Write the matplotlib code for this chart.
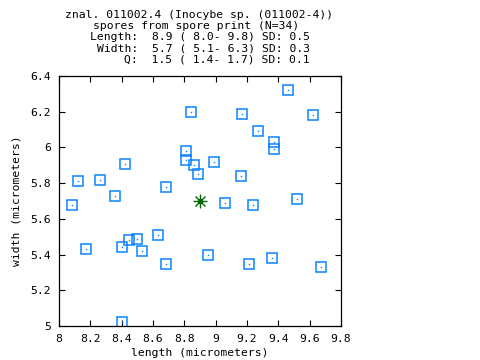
import matplotlib
matplotlib.use("Agg")
import matplotlib.pyplot as plt
import numpy as np

length = [8.84, 8.81, 8.81, 8.86, 8.89, 8.42, 8.12, 8.26, 8.68, 8.36, 8.08,
          9.46, 9.17, 9.62, 9.27, 9.37, 9.37, 8.99, 9.16, 9.06, 9.24, 9.52,
          8.17, 8.40, 8.45, 8.50, 8.53, 8.63, 8.68, 8.40, 8.95, 9.21, 9.36, 9.67]
width = [6.20, 5.98, 5.93, 5.90, 5.85, 5.91, 5.81, 5.82, 5.78, 5.73, 5.68,
         6.32, 6.19, 6.18, 6.09, 6.03, 5.99, 5.92, 5.84, 5.69, 5.68, 5.71,
         5.43, 5.44, 5.48, 5.49, 5.42, 5.51, 5.35, 5.02, 5.40, 5.35, 5.38, 5.33]
mean_length = [8.9]
mean_width = [5.7]

xticks = [8, 8.2, 8.4, 8.6, 8.8, 9, 9.2, 9.4, 9.6, 9.8]
xticklabels = ["8", "8.2", "8.4", "8.6", "8.8", "9", "9.2", "9.4", "9.6", "9.8"]
yticks = [5, 5.2, 5.4, 5.6, 5.8, 6, 6.2, 6.4]
yticklabels = ["5", "5.2", "5.4", "5.6", "5.8", "6", "6.2", "6.4"]

title_lines = ["znal. 011002.4 (Inocybe sp. (011002-4))",
               "spores from spore print (N=34)"]
stat_lines = ["Length:  8.9 ( 8.0- 9.8) SD: 0.5",
              "Width:  5.7 ( 5.1- 6.3) SD: 0.3",
              "Q:  1.5 ( 1.4- 1.7) SD: 0.1"]

plt.rcParams['font.family'] = ['DejaVu Sans Mono']
fs = 8.2
fig = plt.figure(figsize=(4.8, 3.6), dpi=100)
ax = fig.add_axes([59/480, 1-326/360, 282/480, 250/360])

blue = '#0a84ff'
green = '#006400'
ax.plot(length, width, linestyle='none', marker='s', markersize=7.2,
        markerfacecolor='none', markeredgecolor=blue, markeredgewidth=1.1)
ax.plot(length, width, linestyle='none', marker='s', markersize=1.0,
        markerfacecolor=blue, markeredgecolor='none')
ax.plot(mean_length, mean_width, linestyle='none', marker='+', markersize=10,
        color=green, markeredgewidth=1.0)
ax.plot(mean_length, mean_width, linestyle='none', marker='x', markersize=7.5,
        color=green, markeredgewidth=1.0)
ax.plot(mean_length, mean_width, linestyle='none', marker='o', markersize=3,
        color=green)

ax.set_xlim(8, 9.8)
ax.set_ylim(5, 6.4)
ax.set_xticks(xticks)
ax.set_xticklabels(xticklabels, fontsize=fs)
ax.set_yticks(yticks)
ax.set_yticklabels(yticklabels, fontsize=fs)
ax.tick_params(direction='in', length=4.5, width=0.8, top=True, right=True,
               pad=6)
for s in ax.spines.values():
    s.set_linewidth(0.9)
ax.set_xlabel("length (micrometers)", fontsize=fs, labelpad=3)
ax.set_ylabel("width (micrometers)", fontsize=fs, labelpad=6)

ys = [15, 26.2, 37.4, 48.6, 59.8]
fig.text(199/480, 1-ys[0]/360, title_lines[0], ha='center', va='center', fontsize=fs)
fig.text(196/480, 1-ys[1]/360, title_lines[1], ha='center', va='center', fontsize=fs)
for i, t in enumerate(stat_lines):
    fig.text(310/480, 1-ys[2+i]/360, t, ha='right', va='center', fontsize=fs)

fig.savefig("out.png", dpi=100)
